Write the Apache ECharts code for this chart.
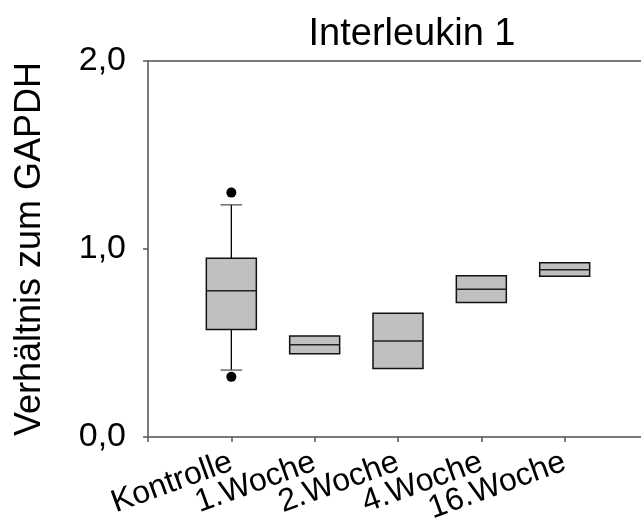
<!DOCTYPE html>
<html>
<head>
<meta charset="utf-8">
<title>Interleukin 1</title>
<script src="https://cdn.jsdelivr.net/npm/echarts@6/dist/echarts.min.js"></script>
<style>
  html, body { margin: 0; padding: 0; background: #ffffff; }
  #chart { width: 641px; height: 523px; }
</style>
</head>
<body>
<div id="chart"></div>
<script>
// Groups along the x axis
const categories = ['Kontrolle', '1.Woche', '2.Woche', '4.Woche', '16.Woche'];

// Box statistics per group (ratio to GAPDH)
const whiskerLow  = [0.356, 0.443, 0.365, 0.716, 0.855];
const quartile1   = [0.572, 0.443, 0.365, 0.716, 0.855];
const medians     = [0.778, 0.491, 0.511, 0.786, 0.890];
const quartile3   = [0.951, 0.537, 0.658, 0.858, 0.927];
const whiskerHigh = [1.235, 0.537, 0.658, 0.858, 0.927];

// Outlying points: [group name, value]
const outliers = [['Kontrolle', 1.30], ['Kontrolle', 0.32]];

// Y axis tick values
const yTicks = [0, 1, 2];

const FONT = '"Liberation Sans", Arial, sans-serif';

// Groups sit at x = 1..n on a numeric axis that starts at 0
const boxData = categories.map((c, i) => [
  i + 1, whiskerLow[i], quartile1[i], medians[i], quartile3[i], whiskerHigh[i]
]);
const outlierData = outliers.map(([name, v]) => [categories.indexOf(name) + 1, v]);

function renderBox(params, api) {
  const x = api.value(0);
  const lo = api.value(1), q1 = api.value(2), med = api.value(3), q3 = api.value(4), hi = api.value(5);
  const band = api.size([1, 0])[0];
  const half = band * 0.3;
  const capHalf = band * 0.13;
  const pLo = api.coord([x, lo]);
  const pQ1 = api.coord([x, q1]);
  const pMed = api.coord([x, med]);
  const pQ3 = api.coord([x, q3]);
  const pHi = api.coord([x, hi]);
  const cx = pMed[0];
  const children = [];
  const stemStyle = { stroke: '#000000', lineWidth: 1.3 };
  const capStyle = { stroke: '#555555', lineWidth: 1.3 };
  if (hi > q3) {
    children.push({ type: 'line', shape: { x1: cx, y1: pQ3[1], x2: cx, y2: pHi[1] }, style: stemStyle });
    children.push({ type: 'line', shape: { x1: cx - capHalf, y1: pHi[1], x2: cx + capHalf, y2: pHi[1] }, style: capStyle });
  }
  if (lo < q1) {
    children.push({ type: 'line', shape: { x1: cx, y1: pQ1[1], x2: cx, y2: pLo[1] }, style: stemStyle });
    children.push({ type: 'line', shape: { x1: cx - capHalf, y1: pLo[1], x2: cx + capHalf, y2: pLo[1] }, style: capStyle });
  }
  children.push({
    type: 'rect',
    shape: { x: cx - half, y: pQ3[1], width: half * 2, height: pQ1[1] - pQ3[1] },
    style: { fill: '#c0c0c0', stroke: '#111111', lineWidth: 1.5 }
  });
  children.push({
    type: 'line',
    shape: { x1: cx - half, y1: pMed[1], x2: cx + half, y2: pMed[1] },
    style: { stroke: '#222222', lineWidth: 1.5 }
  });
  return { type: 'group', children };
}

const chart = echarts.init(document.getElementById('chart'), null, { renderer: 'canvas' });
chart.setOption({
  backgroundColor: '#ffffff',
  animation: false,
  title: {
    text: 'Interleukin 1',
    left: 407,
    top: 11,
    textAlign: 'center',
    textStyle: { fontFamily: FONT, fontSize: 38, fontWeight: 'normal', color: '#000000' }
  },
  grid: {
    left: 148, top: 61, height: 376, width: 500,
    containLabel: false,
    outerBoundsMode: 'none',
    show: true, borderColor: '#7a7a7a', borderWidth: 2, backgroundColor: 'transparent'
  },
  xAxis: {
    type: 'value',
    min: 0, max: categories.length + 1, interval: 1,
    splitLine: { show: false },
    axisLine: { show: true, lineStyle: { color: '#7a7a7a', width: 2 } },
    axisTick: { show: true, length: 5, lineStyle: { color: '#555555', width: 1.5 } },
    axisLabel: {
      rotate: 20,
      margin: 24,
      fontFamily: FONT, fontSize: 32, color: '#000000',
      formatter: v => categories[v - 1] || '',
      showMinLabel: true, showMaxLabel: true
    }
  },
  yAxis: {
    type: 'value',
    min: yTicks[0], max: yTicks[yTicks.length - 1], interval: 1,
    name: 'Verhältnis zum GAPDH',
    nameLocation: 'middle',
    nameGap: 100,
    nameTextStyle: { fontFamily: FONT, fontSize: 36, color: '#000000' },
    splitLine: { show: false },
    axisLine: { show: true, lineStyle: { color: '#7a7a7a', width: 2 } },
    axisTick: { show: true, length: 5, lineStyle: { color: '#555555', width: 1.5 } },
    axisLabel: {
      margin: 22,
      fontFamily: FONT, fontSize: 34, color: '#000000',
      formatter: v => v.toFixed(1).replace('.', ',')
    }
  },
  series: [
    {
      type: 'custom',
      renderItem: renderBox,
      encode: { x: 0, y: [1, 2, 3, 4, 5] },
      data: boxData,
      z: 3
    },
    {
      type: 'scatter',
      data: outlierData,
      symbol: 'circle',
      symbolSize: 10,
      itemStyle: { color: '#000000', opacity: 1 },
      z: 4
    }
  ]
});
</script>
</body>
</html>
